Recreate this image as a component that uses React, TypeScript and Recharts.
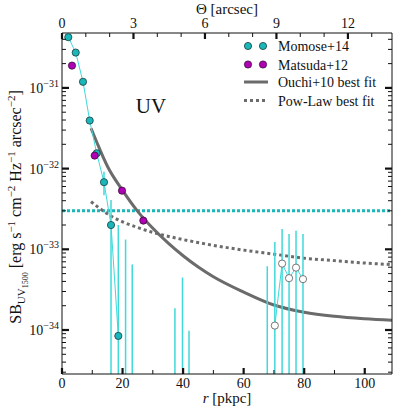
import React from 'react';
import { ComposedChart, XAxis, YAxis, Line, Scatter } from 'recharts';

// ---------- data (r in pkpc, SB in erg s^-1 cm^-2 Hz^-1 arcsec^-2) ----------
const momoseR = [2.08, 4.53, 6.94, 9.15, 11.46, 13.87, 16.19, 18.6];
const momoseSB = [4.25e-31, 2.74e-31, 1.19e-31, 3.94e-32, 1.55e-32, 6.79e-33, 2.0e-33, 8.45e-35];

const momoseOuterR = [70.3, 72.7, 75.0, 77.3, 79.6];
const momoseOuterSB = [1.135e-34, 6.65e-34, 4.39e-34, 5.93e-34, 4.27e-34];

const errR = [13.87, 16.19, 18.6, 21.0, 23.2, 37.3, 39.8, 41.95, 67.8, 70.3, 72.7, 75.0, 77.3, 79.6];
const errHi = [9.12e-33, 4.07e-33, 2.0e-33, 1.32e-33, 6.46e-34, 1.86e-34, 4.47e-34, 9.77e-35, 6.17e-34, 1.23e-33, 1.78e-33, 1.55e-33, 1.7e-33, 1.55e-33];
const errLo: (number | null)[] = [4.68e-33, null, null, null, null, null, null, null, null, null, null, null, null, null];

const matsudaR = [3.3, 10.8, 19.82, 26.86];
const matsudaSB = [1.89e-31, 1.45e-32, 5.33e-33, 2.27e-33];

const ouchiR = [9.6, 12, 15, 20, 25, 30, 35, 40, 45, 50, 60, 70, 80, 90, 100, 109];
const ouchiSB = [3.16e-32, 1.91e-32, 1.07e-32, 5.37e-33, 2.95e-33, 1.82e-33, 1.2e-33, 8.32e-34, 6.03e-34, 4.57e-34, 2.95e-34, 2.04e-34, 1.66e-34, 1.48e-34, 1.38e-34, 1.32e-34];

const powR = [9.6, 12, 15, 20, 25, 30, 40, 50, 60, 70, 80, 90, 100, 109];
const powSB = [3.89e-33, 3.31e-33, 2.75e-33, 2.19e-33, 1.86e-33, 1.62e-33, 1.32e-33, 1.12e-33, 9.77e-34, 8.71e-34, 7.76e-34, 7.24e-34, 6.76e-34, 6.46e-34];

const bgLevel = 3.0e-33;

const rTicks = [0, 10, 20, 30, 40, 50, 60, 70, 80, 90, 100];
const thetaTicks = [0, 1, 2, 3, 4, 5, 6, 7, 8, 9, 10, 11, 12, 13];

const R_DOMAIN: [number, number] = [0, 109];
const THETA_DOMAIN: [number, number] = [0, 13.85];
const Y_MIN = 2.85e-35;
const Y_MAX = 4.79e-31;

// log ticks (major decades + minors)
const yTicks: number[] = [];
for (let e = -35; e <= -31; e++) {
  for (let m = 1; m <= 9; m++) {
    const v = Number(`${m}e${e}`);
    if (v >= Y_MIN && v <= Y_MAX) yTicks.push(v);
  }
}

// ---------- derived tables ----------
const zip = (rs: number[], vs: number[]) => rs.map((r, i) => ({ r, sb: vs[i] }));
const momoseData = zip(momoseR, momoseSB);
const momoseOuterData = zip(momoseOuterR, momoseOuterSB);
const matsudaData = zip(matsudaR, matsudaSB);
const ouchiData = zip(ouchiR, ouchiSB);
const powData = zip(powR, powSB);
// background level, drawn across the full width on the top (arcsec) / right axes
const bgData = [{ r: THETA_DOMAIN[0], sb: bgLevel }, { r: THETA_DOMAIN[1], sb: bgLevel }];
const errData = errR.map((r, i) => [
  { r, sb: errHi[i] },
  { r, sb: errLo[i] ?? Y_MIN },
]);

// ---------- styles ----------
const INK = '#111';
const FONT = '"Liberation Serif", "DejaVu Serif", serif';
const CYAN_LINE = '#3fd9d9';
const CYAN_FILL = '#19b7ba';
const MAG_FILL = '#b000b4';
const GRAY = '#6b6b6b';

const isDecade = (v: number) => {
  const l = Math.log10(v);
  return Math.abs(l - Math.round(l)) < 1e-6;
};

const LeftTick = (p: any) => {
  const { x, y, payload } = p;
  const v = payload.value;
  const major = isDecade(v);
  return (
    <g>
      <line x1={x} x2={x + (major ? 7 : 4)} y1={y} y2={y} stroke={INK} strokeWidth={major ? 2.2 : 1} />
      {major && (
        <text x={x - 3} y={y + 5} textAnchor="end" fontFamily={FONT} fontSize={14} fill={INK}>
          10
          <tspan dy={-6} fontSize={10}>{`\u2212${-Math.round(Math.log10(v))}`}</tspan>
        </text>
      )}
    </g>
  );
};

const RightTick = (p: any) => {
  const { x, y, payload } = p;
  const major = isDecade(payload.value);
  return <line x1={x} x2={x - (major ? 7 : 4)} y1={y} y2={y} stroke={INK} strokeWidth={major ? 2.2 : 1} />;
};

const BottomTick = (p: any) => {
  const { x, y, payload } = p;
  const v = payload.value;
  const major = v % 20 === 0;
  return (
    <g>
      <line x1={x} x2={x} y1={y} y2={y - (major ? 6 : 4)} stroke={INK} strokeWidth={major ? 2.2 : 1} />
      {major && (
        <text x={x} y={y + 14} textAnchor="middle" fontFamily={FONT} fontSize={14} fill={INK}>
          {v}
        </text>
      )}
    </g>
  );
};

const TopTick = (p: any) => {
  const { x, y, payload } = p;
  const v = payload.value;
  const major = v % 3 === 0;
  return (
    <g>
      <line x1={x} x2={x} y1={y} y2={y + (major ? 6 : 4)} stroke={INK} strokeWidth={major ? 2.2 : 1} />
      {major && (
        <text x={x} y={y - 5} textAnchor="middle" fontFamily={FONT} fontSize={14} fill={INK}>
          {v}
        </text>
      )}
    </g>
  );
};

const Dot = (fill: string, stroke: string) => (p: any) =>
  p.cx == null ? <g /> : <circle cx={p.cx} cy={p.cy} r={3.6} fill={fill} stroke={stroke} strokeWidth={0.8} />;

export default function App() {
  return (
    <div style={{ position: 'absolute', left: 0, top: 0, width: 399, height: 412, background: '#fff' }}>
      <ComposedChart width={399} height={412} margin={{ top: 32, right: 6, bottom: 37, left: 61 }}>
        <XAxis
          xAxisId="b"
          dataKey="r"
          type="number"
          orientation="bottom"
          domain={R_DOMAIN}
          allowDataOverflow
          ticks={rTicks}
          interval={0}
          height={1}
          tickSize={0}
          tickMargin={0}
          tickLine={false}
          tick={BottomTick}
          axisLine={{ stroke: INK, strokeWidth: 1 }}
        />
        <XAxis
          xAxisId="t"
          dataKey="r"
          type="number"
          orientation="top"
          domain={THETA_DOMAIN}
          allowDataOverflow
          ticks={thetaTicks}
          interval={0}
          height={1}
          tickSize={0}
          tickMargin={0}
          tickLine={false}
          tick={TopTick}
          axisLine={{ stroke: INK, strokeWidth: 1 }}
        />
        <YAxis
          yAxisId="l"
          dataKey="sb"
          type="number"
          scale="log"
          orientation="left"
          domain={[Y_MIN, Y_MAX]}
          allowDataOverflow
          ticks={yTicks}
          interval={0}
          width={1}
          tickSize={0}
          tickMargin={0}
          tickLine={false}
          tick={LeftTick}
          axisLine={{ stroke: INK, strokeWidth: 1 }}
        />
        <YAxis
          yAxisId="r"
          dataKey="sb"
          type="number"
          scale="log"
          orientation="right"
          domain={[Y_MIN, Y_MAX]}
          allowDataOverflow
          ticks={yTicks}
          interval={0}
          width={1}
          tickSize={0}
          tickMargin={0}
          tickLine={false}
          tick={RightTick}
          axisLine={{ stroke: INK, strokeWidth: 1 }}
        />

        <Line xAxisId="t" yAxisId="r" data={bgData} dataKey="sb" stroke={CYAN_FILL} strokeWidth={3} strokeDasharray="3 2" dot={false} isAnimationActive={false} />
        <Line xAxisId="b" yAxisId="l" data={ouchiData} dataKey="sb" type="monotone" stroke={GRAY} strokeWidth={3} dot={false} isAnimationActive={false} />
        <Line xAxisId="b" yAxisId="l" data={powData} dataKey="sb" type="monotone" stroke={GRAY} strokeWidth={3} strokeDasharray="3 3" dot={false} isAnimationActive={false} />

        {errData.map((d, i) => (
          <Line key={`e${i}`} xAxisId="b" yAxisId="l" data={d} dataKey="sb" stroke={CYAN_LINE} strokeWidth={1.5} dot={false} isAnimationActive={false} />
        ))}

        <Line xAxisId="b" yAxisId="l" data={momoseData} dataKey="sb" stroke={CYAN_LINE} strokeWidth={1} dot={false} isAnimationActive={false} />
        <Line xAxisId="b" yAxisId="l" data={momoseOuterData} dataKey="sb" stroke={CYAN_LINE} strokeWidth={1} dot={false} isAnimationActive={false} />

        <Scatter xAxisId="b" yAxisId="l" data={momoseData} dataKey="sb" shape={Dot(CYAN_FILL, '#1d3c3c')} isAnimationActive={false} />
        <Scatter xAxisId="b" yAxisId="l" data={momoseOuterData} dataKey="sb" shape={Dot('#ffffff', '#555')} isAnimationActive={false} />
        <Scatter xAxisId="b" yAxisId="l" data={matsudaData} dataKey="sb" shape={Dot(MAG_FILL, '#3a0a3a')} isAnimationActive={false} />
      </ComposedChart>

      <svg width={399} height={412} style={{ position: 'absolute', left: 0, top: 0, pointerEvents: 'none' }}>
        {/* top title */}
        <text x={227} y={14} textAnchor="middle" fontFamily={FONT} fontSize={15} fill={INK}>
          {'\u0398 [arcsec]'}
        </text>
        {/* bottom title */}
        <text x={227} y={403} textAnchor="middle" fontFamily={FONT} fontSize={15} fill={INK}>
          <tspan fontStyle="italic">r</tspan> [pkpc]
        </text>
        {/* y title */}
        <text transform="translate(21,207) rotate(-90)" textAnchor="middle" fontFamily={FONT} fontSize={16} fill={INK}>
          SB
          <tspan dy={4} fontSize={11}>UV</tspan>
          <tspan dy={3} fontSize={8}>1500</tspan>
          <tspan dy={-7} fontSize={16}>{' [erg s'}</tspan>
          <tspan dy={-6} fontSize={11}>{'\u22121'}</tspan>
          <tspan dy={6} fontSize={16}>{' cm'}</tspan>
          <tspan dy={-6} fontSize={11}>{'\u22122'}</tspan>
          <tspan dy={6} fontSize={16}>{' Hz'}</tspan>
          <tspan dy={-6} fontSize={11}>{'\u22121'}</tspan>
          <tspan dy={6} fontSize={16}>{' arcsec'}</tspan>
          <tspan dy={-6} fontSize={11}>{'\u22122'}</tspan>
          <tspan dy={6} fontSize={16}>{']'}</tspan>
        </text>
        {/* UV label */}
        <text x={151} y={113} textAnchor="middle" fontFamily={FONT} fontSize={21} fill={INK}>
          UV
        </text>
        {/* legend */}
        <g fontFamily={FONT} fontSize={14} fill={INK}>
          <circle cx={248} cy={46} r={3.6} fill={CYAN_FILL} stroke="#1d3c3c" strokeWidth={0.8} />
          <circle cx={263} cy={46} r={3.6} fill={CYAN_FILL} stroke="#1d3c3c" strokeWidth={0.8} />
          <text x={278} y={51}>Momose+14</text>
          <circle cx={248} cy={64.5} r={3.6} fill={MAG_FILL} stroke="#3a0a3a" strokeWidth={0.8} />
          <circle cx={263} cy={64.5} r={3.6} fill={MAG_FILL} stroke="#3a0a3a" strokeWidth={0.8} />
          <text x={278} y={69.5}>Matsuda+12</text>
          <line x1={244} x2={268} y1={82} y2={82} stroke={GRAY} strokeWidth={3} />
          <text x={278} y={87}>Ouchi+10 best fit</text>
          <line x1={244} x2={268} y1={100.5} y2={100.5} stroke={GRAY} strokeWidth={3} strokeDasharray="3 3" />
          <text x={278} y={105.5}>Pow-Law best fit</text>
        </g>
      </svg>
    </div>
  );
}
